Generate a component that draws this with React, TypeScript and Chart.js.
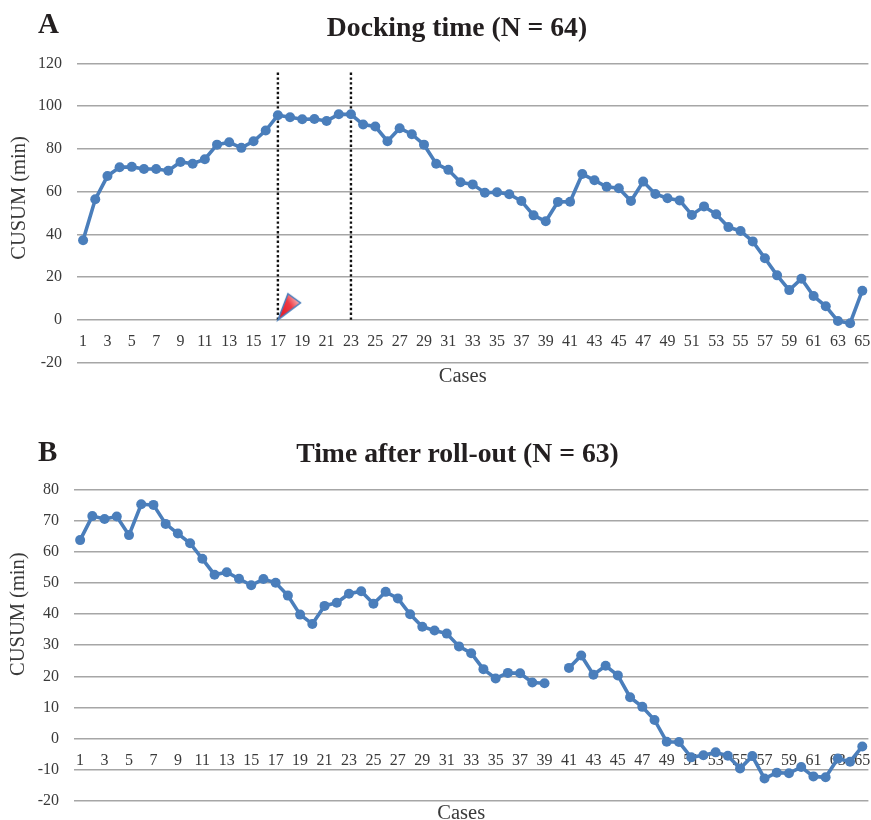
import React, { useEffect, useRef } from "react";
import { Chart, registerables } from "chart.js";

Chart.register(...registerables);

const cases = Array.from({ length: 65 }, (_, i) => String(i + 1));

const dockingCusum = [
  37.2, 56.4, 67.3, 71.4, 71.6, 70.6, 70.6, 69.8, 73.9, 73.1, 75.2, 82, 83.1, 80.5, 83.6, 88.6, 95.8, 94.8, 93.9, 94,
  93.1, 96.2, 96.2, 91.4, 90.5, 83.6, 89.7, 86.9, 82, 73.1, 70.2, 64.4, 63.4, 59.5, 59.7, 58.8, 55.6, 48.9, 46.1,
  55.2, 55.3, 68.3, 65.3, 62.3, 61.6, 55.6, 64.7, 58.9, 56.9, 55.9, 49.1, 53.1, 49.4, 43.4, 41.6, 36.7, 28.8, 20.8,
  13.9, 19.2, 11.1, 6.3, -0.6, -1.6, 13.6,
];

const rollOutCusum = [
  63.7, 71.4, 70.5, 71.3, 65.3, 75.2, 75, 68.9, 65.8, 62.7, 57.7, 52.6, 53.4, 51.3, 49.2, 51.2, 50, 45.9, 39.8, 36.8,
  42.6, 43.6, 46.5, 47.3, 43.3, 47.1, 45, 39.9, 35.9, 34.7, 33.7, 29.6, 27.4, 22.3, 19.3, 21.1, 21, 18, 17.8, null,
  22.7, 26.7, 20.5, 23.4, 20.3, 13.3, 10.2, 6, -1, -1.1, -6, -5.3, -4.4, -5.5, -9.6, -5.6, -12.8, -10.9, -11.1, -9.1,
  -12.1, -12.4, -6.4, -7.4, -2.5,
];

const cutPoints = ["17", "23"];
const cutTop = 116.5;
const arrowCase = "17";

const SERIF = '"Liberation Serif", "Times New Roman", serif';
const BLUE = "#4a7ebb";
const GRID = "#a6a6a6";
const TICK = "#3a3a3a";
const INK = "#231f20";

function makeArrow() {
  // Marker is centred on its point, so its tip sits in the middle of the canvas.
  const c = document.createElement("canvas");
  c.width = 54;
  c.height = 60;
  const g = c.getContext("2d")!;
  const cx = 27;
  const cy = 30;
  const grad = g.createLinearGradient(cx + 3, cy - 8, cx + 22, cy - 20);
  grad.addColorStop(0, "#e8202c");
  grad.addColorStop(0.5, "#ee3a44");
  grad.addColorStop(1, "#f8c4c6");
  g.beginPath();
  g.moveTo(cx, cy);
  g.lineTo(cx + 10, cy - 26);
  g.lineTo(cx + 22.5, cy - 17);
  g.closePath();
  g.fillStyle = grad;
  g.fill();
  g.strokeStyle = "#4a7ebb";
  g.lineWidth = 1.5;
  g.stroke();
  return c;
}

type PanelProps = {
  top: number;
  height: number;
  values: (number | null)[];
  min: number;
  max: number;
  step: number;
  chartTop: number;
  chartBottom: number;
  yWidth: number;
  casesPad: number;
  yShift: number;
  xShift: number;
  yTitlePad: number;
  annotate: boolean;
};

function Panel(p: PanelProps) {
  const ref = useRef<HTMLCanvasElement>(null);
  useEffect(() => {
    const datasets: any[] = [
      {
        label: "CUSUM",
        data: p.values,
        borderColor: BLUE,
        backgroundColor: BLUE,
        borderWidth: 3.6,
        pointRadius: 5,
        pointBorderWidth: 0,
        spanGaps: false,
        tension: 0,
        clip: false,
        order: 1,
      },
    ];
    if (p.annotate) {
      cutPoints.forEach((c) =>
        datasets.push({
          label: "Cut " + c,
          data: [
            { x: c, y: 0 },
            { x: c, y: cutTop },
          ],
          borderColor: "#111111",
          borderWidth: 2.4,
          borderDash: [2.4, 2.4],
          pointRadius: 0,
          clip: false,
          order: 2,
        })
      );
      datasets.push({
        label: "Marker",
        data: [{ x: arrowCase, y: 0 }],
        showLine: false,
        pointStyle: makeArrow(),
        pointRadius: 10,
        clip: false,
        order: 0,
      });
    }
    const chart = new Chart(ref.current!, {
      type: "line",
      data: { labels: cases, datasets },
      plugins: [
        {
          id: "titleNudge",
          beforeDraw(c: any) {
            c.scales.x2.right -= 2 * p.xShift;
            c.scales.y.bottom -= 2 * p.yShift;
          },
        },
      ],
      options: {
        animation: false,
        responsive: false,
        layout: { autoPadding: false, padding: { top: p.chartTop, right: 2.6, left: 0, bottom: 0 } },
        plugins: { legend: { display: false }, title: { display: false }, tooltip: { enabled: false } },
        scales: {
          x: {
            type: "category",
            offset: true,
            position: { y: 0 },
            grid: { display: false },
            border: { display: false },
            afterFit: (s: any) => {
              s.paddingLeft = 0;
              s.paddingRight = 0;
            },
            ticks: {
              autoSkip: false,
              maxRotation: 0,
              minRotation: 0,
              padding: 4.5,
              color: TICK,
              font: { family: SERIF, size: 16 },
              callback: (_v: any, i: number) => (i % 2 === 0 ? cases[i] : ""),
            },
          },
          x2: {
            type: "category",
            position: "bottom",
            grid: { display: false },
            border: { display: false },
            ticks: { display: false },
            afterFit: (s: any) => {
              s.height = p.chartBottom;
              s.paddingLeft = 0;
              s.paddingRight = 0;
            },
            title: {
              display: true,
              text: "Cases",
              color: TICK,
              font: { family: SERIF, size: 20.5 },
              padding: { top: 0, bottom: p.casesPad },
            },
          },
          y: {
            min: p.min,
            max: p.max,
            grid: { color: GRID, lineWidth: 1.5, drawTicks: false },
            border: { display: false },
            afterFit: (s: any) => {
              s.width = p.yWidth;
            },
            ticks: {
              stepSize: p.step,
              padding: 15,
              color: TICK,
              font: { family: SERIF, size: 16 },
            },
            title: {
              display: true,
              text: "CUSUM (min)",
              color: TICK,
              font: { family: SERIF, size: 20.5 },
              padding: { top: p.yTitlePad, bottom: 0 },
            },
          },
        },
      } as any,
    } as any);
    return () => chart.destroy();
  }, []);
  return (
    <canvas
      ref={ref}
      width={871}
      height={p.height}
      style={{ position: "absolute", left: 0, top: p.top, width: 871, height: p.height, display: "block" }}
    />
  );
}

function Label(props: { text: string; size: number; top: number; left?: number; center?: number }) {
  return (
    <div
      style={{
        position: "absolute",
        top: props.top,
        left: props.left ?? props.center,
        transform: props.center !== undefined ? "translateX(-50%)" : undefined,
        font: `bold ${props.size}px/1 ${SERIF}`,
        color: INK,
        whiteSpace: "nowrap",
      }}
    >
      {props.text}
    </div>
  );
}

export default function App() {
  return (
    <div style={{ position: "absolute", left: 0, top: 0, width: 871, height: 820, overflow: "hidden", background: "#fff" }}>
      <Panel
        top={0}
        height={410}
        values={dockingCusum}
        min={-20}
        max={120}
        step={20}
        chartTop={63.5}
        chartBottom={47.5}
        yWidth={77}
        casesPad={21.5}
        yShift={15}
        xShift={10}
        yTitlePad={7}
        annotate
      />
      <Panel
        top={410}
        height={416}
        values={rollOutCusum}
        min={-20}
        max={80}
        step={10}
        chartTop={79.3}
        chartBottom={25}
        yWidth={74}
        casesPad={0.5}
        yShift={31}
        xShift={10}
        yTitlePad={6}
        annotate={false}
      />
      <Label text="A" size={29} top={8.7} left={38} />
      <Label text="Docking time (N = 64)" size={27.7} top={13} center={457} />
      <Label text="B" size={29} top={436.7} left={38} />
      <Label text="Time after roll-out (N = 63)" size={27.7} top={438.7} center={457.5} />
    </div>
  );
}
